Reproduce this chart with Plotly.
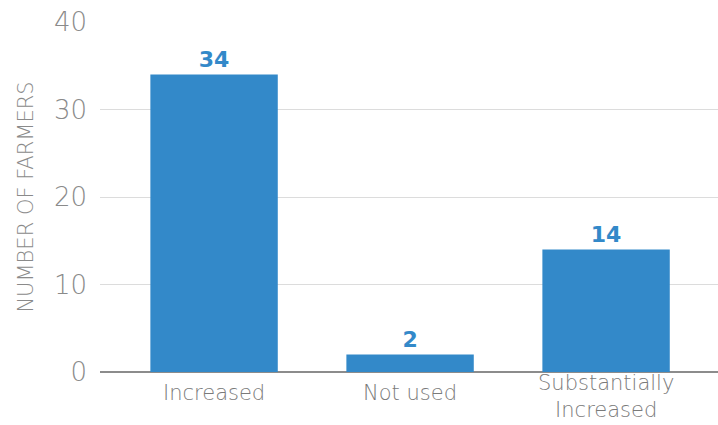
import plotly.graph_objects as go

categories = ["Increased", "Not used", "Substantially Increased"]
category_labels = ["Increased", "Not used", "Substantially<br>Increased"]
farmers = [34, 2, 14]
y_ticks = [0, 10, 20, 30, 40]

BLUE = "#3389c9"
GRAY = "#8a8a8a"
LIGHT_FONT = "DejaVu Sans"

fig = go.Figure(
    go.Bar(
        x=categories,
        y=farmers,
        width=0.65,
        marker=dict(color=BLUE, line=dict(width=0)),
        text=[str(v) for v in farmers],
        textposition="outside",
        cliponaxis=False,
        textfont=dict(family="DejaVu Sans", size=22, color=BLUE, weight=700),
    )
)

# Category labels under the baseline; the two-line one is pinned to the bottom edge
for cat, label in zip(categories, category_labels):
    two_lines = "<br>" in label
    fig.add_annotation(
        x=cat, y=0, xref="x",
        yref="paper" if two_lines else "y",
        text=label, showarrow=False,
        yanchor="bottom" if two_lines else "middle",
        yshift=-52 if two_lines else -21,
        font=dict(family=LIGHT_FONT, size=21, color="#7a7a7a", weight=200),
    )

fig.update_layout(
    width=718,
    height=425,
    margin=dict(l=100, r=0, t=22, b=53),
    plot_bgcolor="white",
    paper_bgcolor="white",
    showlegend=False,
    bargap=0.35,
    font=dict(family=LIGHT_FONT, color=GRAY),
)

fig.update_xaxes(
    range=[-0.582, 2.571],
    showgrid=False,
    showline=False,
    ticks="",
    showticklabels=False,
    automargin=False,
)

fig.update_yaxes(
    range=[0, 40],
    tickvals=y_ticks,
    showgrid=True,
    gridcolor="#dcdcdc",
    gridwidth=1,
    zeroline=True,
    zerolinecolor="#8c8c8c",
    zerolinewidth=2,
    showline=False,
    ticks="",
    automargin=False,
    ticklabelstandoff=12,
    tickfont=dict(family=LIGHT_FONT, size=26, color=GRAY, weight=200),
    title=dict(
        text="NUMBER OF FARMERS",
        font=dict(family=LIGHT_FONT, size=21, color=GRAY, weight=200),
        standoff=14,
    ),
)

fig.write_html("out.html")
